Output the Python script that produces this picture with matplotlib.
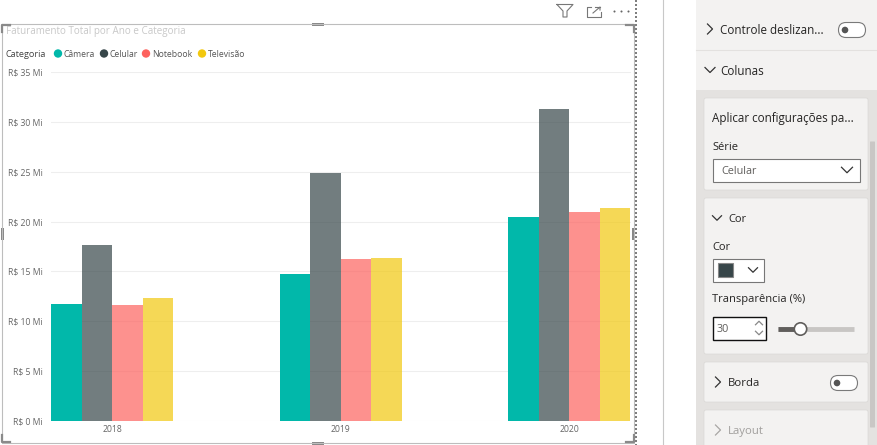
"""
Faturamento chart with the Power BI format pane beside it.
Saves to out.png
"""

import numpy as np
import matplotlib
matplotlib.use("Agg")
import matplotlib.pyplot as plt
from matplotlib.patches import FancyBboxPatch, Rectangle, Circle


plt.rcParams["font.family"] = ["Open Sans", "DejaVu Sans"]

W, H = 877, 445

years = ["2018", "2019", "2020"]
categorias = ["Câmera", "Celular", "Notebook", "Televisão"]
camera = [11.75, 14.75, 20.45]
celular = [17.65, 24.9, 31.3]
notebook = [11.65, 16.25, 21.0]
televisao = [12.35, 16.3, 21.4]
yticks = [0, 5, 10, 15, 20, 25, 30, 35]

cores = ["#01B8AA", "#374649", "#FD625E", "#F2C80F"]
alphas = [1.0, 0.7, 0.7, 0.7]

fig = plt.figure(figsize=(W / 100, H / 100), dpi=100, facecolor="white")

# Chart axes, placed to match the pixel positions of the plot area
ax = fig.add_axes([51 / W, 1 - 421 / H, (631 - 51) / W, (421 - 72) / H])
ax.set_facecolor("none")
bw = 0.1335
x = np.arange(len(years))
series = [camera, celular, notebook, televisao]
for i, vals in enumerate(series):
    ax.bar(x + (i - 1.5) * bw, vals, width=bw, color=cores[i], alpha=alphas[i],
           linewidth=0, zorder=3)
ax.set_xlim(-0.267, 2.271)
ax.set_ylim(0, 35)
ax.set_yticks(yticks)
ax.set_yticklabels([f"R$ {v} Mi" for v in yticks], fontsize=6.2, color="#666666")
ax.set_xticks(x)
ax.set_xticklabels(years, fontsize=6.2, color="#666666")
ax.tick_params(length=0)
ax.tick_params(axis="y", pad=6)
ax.tick_params(axis="x", pad=3)
ax.grid(axis="y", color="#eeeeee", lw=0.8, zorder=0)
ax.set_axisbelow(True)
for s in ax.spines.values():
    s.set_visible(False)

# Overlay in pixel coordinates for the surrounding report UI
ui = fig.add_axes([0, 0, 1, 1], zorder=5)
ui.set_xlim(0, W)
ui.set_ylim(H, 0)
ui.axis("off")
ui.patch.set_alpha(0)


def txt(px, py, s, size=8, color="#252423", **kw):
    ui.text(px, py + 0.7, s, fontsize=size, color=color, va="center", ha=kw.pop("ha", "left"), **kw)


def card(x0, y0, x1, y1, fc="#f3f2f1"):
    ui.add_patch(FancyBboxPatch((x0 + 2, y0 + 2), x1 - x0 - 4, y1 - y0 - 4,
                                boxstyle="round,pad=2", fc=fc, ec="#d6d4d2", lw=0.4))


def chevron(px, py, direction="down", color="#333333", s=5):
    if direction == "down":
        ui.plot([px - s, px, px + s], [py - s / 2, py + s / 2, py - s / 2], color=color, lw=0.9)
    elif direction == "up":
        ui.plot([px - s, px, px + s], [py + s / 2, py - s / 2, py + s / 2], color=color, lw=0.9)
    else:
        ui.plot([px - s / 2, px + s / 2, px - s / 2], [py - s, py, py + s], color=color, lw=0.9)


def toggle(px, py):
    ui.add_patch(FancyBboxPatch((px - 9, py - 3), 18, 6, boxstyle="round,pad=4.5,rounding_size=7.5",
                                fc="white", ec="#7a7a7a", lw=0.8))
    ui.add_patch(Circle((px - 7, py), 3.3, fc="#555555", ec="none"))


# visual frame, handles and header icons
ui.plot([2, 633.5, 633.5, 2, 2], [24, 24, 443, 443, 24], color="#bdbdbd", lw=0.8)
ui.plot([636, 636], [0, 445], color="#666666", lw=1.2, ls=(0, (1.2, 1.2)))
ui.plot([662.5, 662.5], [0, 445], color="#c8c8c8", lw=0.8)
for hx, hy in [(318, 24), (318, 443), (633, 234), (2, 234)]:
    horiz = hy in (24, 443)
    ui.add_patch(Rectangle((hx - (6 if horiz else 1.5), hy - (1.5 if horiz else 6)),
                           12 if horiz else 3, 3 if horiz else 12,
                           fc="#888888", ec="none"))
for (cx, cy), (dx, dy) in zip([(2, 24), (633.5, 24), (2, 443), (633.5, 443)],
                              [(1, 1), (-1, 1), (1, -1), (-1, -1)]):
    ui.plot([cx + 8 * dx, cx, cx], [cy + dy, cy + dy, cy + 8 * dy], color="#8a8a8a", lw=1.6)

ui.plot([557, 573, 567, 567, 563, 563, 557], [4.5, 4.5, 11, 17, 17, 11, 4.5], color="#777777", lw=0.8)
ui.plot([591, 587, 587, 601, 601], [7, 7, 17, 17, 12], color="#777777", lw=0.8)
ui.plot([593, 600, 600], [13, 7, 10], color="#777777", lw=0.8)
ui.plot([595, 600], [7, 7], color="#777777", lw=0.8)
ui.scatter([614, 621, 628], [11, 11, 11], s=2.2, color="#666666", linewidths=0)

# title and legend
txt(6, 30.5, "Faturamento Total por Ano e Categoria", 7.1, "#c8c8c8")
txt(6, 53.5, "Categoria", 6.6, "#444444")
for lx, tx, c, nome in zip([58, 104, 146, 202], [64, 110, 152, 208], cores, categorias):
    ui.add_patch(Circle((lx, 53.5), 4.2, fc=c, ec="none"))
    txt(tx, 53.5, nome, 6.2, "#555555")

# format pane
ui.add_patch(Rectangle((696, 0), W - 696, H, fc="#f3f2f1", ec="none"))
ui.plot([696, W], [49.5, 49.5], color="#e3e1df", lw=0.8)
ui.add_patch(Rectangle((696, 90), W - 696, H - 90, fc="#e4e2e0", ec="none"))
ui.add_patch(FancyBboxPatch((870.5, 142), 4, 285, boxstyle="round,pad=0.5", fc="#c9c7c5", ec="none"))

chevron(710, 29, "right")
txt(720, 30, "Controle deslizan...", 8.4)
toggle(852, 30)
chevron(710, 70, "down")
txt(720, 71, "Colunas", 8.4)

card(704, 98, 868, 190)
txt(712, 118, "Aplicar configurações pa...", 8.4)
txt(712, 147, "Série", 8.0)
ui.add_patch(Rectangle((712.5, 158.5), 147, 23, fc="white", ec="#777777", lw=0.8))
txt(721, 171, "Celular", 7.8, "#605e5c")
chevron(847, 170, "down", "#333333", 5.5)

card(704, 198, 868, 354)
chevron(717, 218, "down", s=4.5)
txt(728, 219, "Cor", 8.0)
txt(712, 247, "Cor", 8.0)
ui.add_patch(Rectangle((712.5, 258.5), 51, 23, fc="white", ec="#777777", lw=0.8))
ui.add_patch(Rectangle((718, 263), 15, 14, fc=cores[1], ec="#888888", lw=0.8))
chevron(753, 270, "down", "#333333", 4.5)
txt(712, 299, "Transparência (%)", 8.0)
ui.add_patch(Rectangle((712.5, 316.5), 53, 23, fc="white", ec="#111111", lw=1))
txt(717, 329, "30", 7.8, "#605e5c")
chevron(759, 323, "up", "#888888", 3.5)
chevron(759, 333, "down", "#888888", 3.5)
ui.plot([778, 854], [329, 329], color="#c8c6c4", lw=3.5, solid_capstyle="butt")
ui.plot([778, 800], [329, 329], color="#605e5c", lw=3.5, solid_capstyle="butt")
ui.add_patch(Circle((800.5, 329), 6.2, fc="white", ec="#605e5c", lw=1.2, zorder=6))

card(704, 362, 868, 402)
chevron(718, 382, "right", s=5)
txt(728, 383, "Borda", 8.2)
toggle(844, 383)

card(704, 410, 868, 452)
chevron(718, 430, "right", "#a8a6a4", s=5)
txt(728, 431, "Layout", 8.2, "#a19f9d")

fig.savefig("out.png", dpi=100)
plt.close()
